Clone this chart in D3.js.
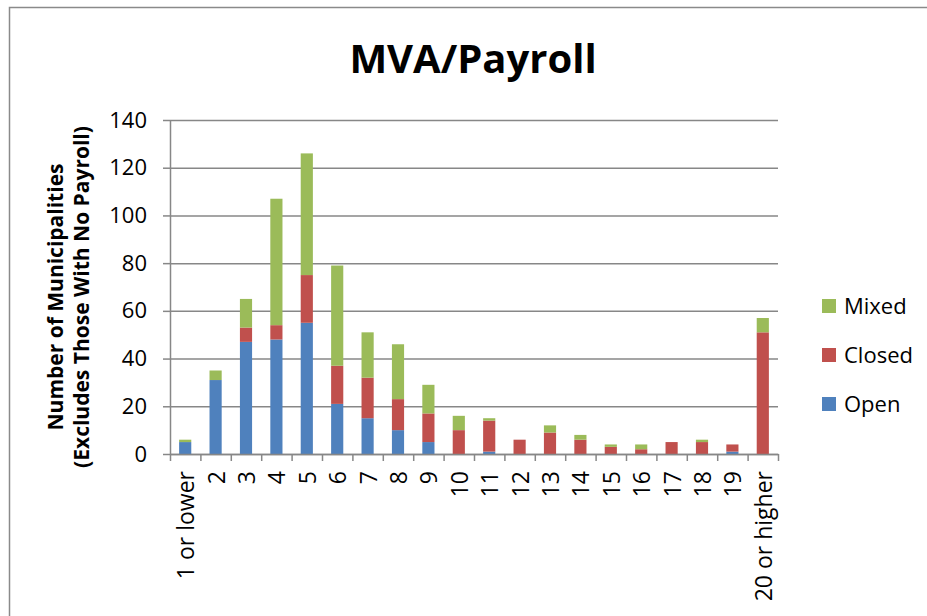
<!DOCTYPE html>
<html>
<head>
<meta charset="utf-8">
<script src="https://cdn.jsdelivr.net/npm/d3@7"></script>
<style>
  body { margin: 0; background: #fff; }
  text { font-family: "Open Sans", "DejaVu Sans", sans-serif; fill: #000; }
  .grid line { stroke: #878787; stroke-width: 1.5; }
  .grid path { display: none; }
  .axis path, .axis line { stroke: #878787; stroke-width: 1.5; }
</style>
</head>
<body>
<div id="chart"></div>
<script>
var categories = ["1 or lower", "2", "3", "4", "5", "6", "7", "8", "9", "10",
  "11", "12", "13", "14", "15", "16", "17", "18", "19", "20 or higher"]
var openVals   = [5, 31, 47, 48, 55, 21, 15, 10, 5, 0, 1, 0, 0, 0, 0, 0, 0, 0, 1, 0]
var closedVals = [0, 0, 6, 6, 20, 16, 17, 13, 12, 10, 13, 6, 9, 6, 3, 2, 5, 5, 3, 51]
var mixedVals  = [1, 4, 12, 53, 51, 42, 19, 23, 12, 6, 1, 0, 3, 2, 1, 2, 0, 1, 0, 6]
var seriesNames = ["Open", "Closed", "Mixed"]
var seriesColors = ["#4f81bd", "#c0504d", "#9bbb59"]
var yTicks = [0, 20, 40, 60, 80, 100, 120, 140]

var width = 927, height = 616
var margin = {top: 120, right: 149, bottom: 162, left: 170}
var plotW = width - margin.left - margin.right,
  plotH = height - margin.top - margin.bottom

var svg = d3.select("#chart").append("svg")
  .attr("width", width)
  .attr("height", height)

// outer chart frame (runs off the right and bottom edge)
svg.append("rect")
  .attr("x", 9.5).attr("y", 7.5)
  .attr("width", 1000).attr("height", 1000)
  .attr("fill", "#fff")
  .attr("stroke", "#8a8a8a")
  .attr("stroke-width", 1.5)

var g = svg.append("g")
  .attr("transform", "translate(" + margin.left + "," + margin.top + ")")

var x = d3.scaleBand()
  .domain(categories)
  .range([0, plotW])
  .paddingInner(0.6)
  .paddingOuter(0.3)

var xEdge = d3.scaleLinear()
  .domain([0, categories.length])
  .range([0, plotW])

var y = d3.scaleLinear()
  .domain([0, 140])
  .range([plotH, 0])

// gridlines
g.append("g")
  .attr("class", "grid")
  .call(d3.axisLeft(y).tickValues(yTicks).tickSize(-plotW).tickFormat(""))

// stacked bars
var rows = categories.map((c, i) => ({cat: c, Open: openVals[i], Closed: closedVals[i], Mixed: mixedVals[i]}))
var stacked = d3.stack().keys(seriesNames)(rows)

g.selectAll("g.series")
  .data(stacked)
  .enter()
  .append("g")
  .attr("class", "series")
  .attr("fill", (d, i) => seriesColors[i])
  .selectAll("rect")
  .data(d => d)
  .enter()
  .append("rect")
  .attr("x", d => x(d.data.cat))
  .attr("width", x.bandwidth())
  .attr("y", d => y(d[1]))
  .attr("height", d => y(d[0]) - y(d[1]))

// y axis
var yAxis = g.append("g")
  .attr("class", "axis")
  .call(d3.axisLeft(y).tickValues(yTicks).tickSize(7).tickSizeOuter(0).tickPadding(16))
yAxis.selectAll("text")
  .style("font-size", "22px")

// x axis: ticks between categories, labels rotated
var xAxis = g.append("g")
  .attr("class", "axis")
  .attr("transform", "translate(0," + plotH + ")")
  .call(d3.axisBottom(xEdge).tickValues(d3.range(categories.length + 1)).tickSize(7).tickSizeOuter(0).tickFormat(""))

g.append("g")
  .selectAll("text")
  .data(categories)
  .enter()
  .append("text")
  .attr("transform", d => "translate(" + (x(d) + x.bandwidth() / 2 + 1) + "," + (plotH + 17) + ") rotate(-90)")
  .attr("text-anchor", "end")
  .attr("dy", "0.35em")
  .style("font-size", "23px")
  .text(d => d)

// title
svg.append("text")
  .attr("x", 473)
  .attr("y", 73)
  .attr("text-anchor", "middle")
  .style("font-size", "40px")
  .style("font-weight", "bold")
  .text("MVA/Payroll")

// y axis title
var yTitle = svg.append("text")
  .attr("transform", "translate(0,297) rotate(-90)")
  .attr("text-anchor", "middle")
  .style("font-size", "21px")
  .style("font-weight", "bold")
yTitle.append("tspan").attr("x", 0).attr("y", 63).text("Number of Municipalities")
yTitle.append("tspan").attr("x", 0).attr("y", 89).text("(Excludes Those With No Payroll)")

// legend (reverse order, Mixed on top)
var legendItems = seriesNames.slice().reverse()
var legend = svg.append("g")
  .selectAll("g")
  .data(legendItems)
  .enter()
  .append("g")
  .attr("transform", (d, i) => "translate(822," + (306 + i * 49) + ")")

legend.append("rect")
  .attr("x", 0).attr("y", -7)
  .attr("width", 14).attr("height", 14)
  .attr("fill", d => seriesColors[seriesNames.indexOf(d)])

legend.append("text")
  .attr("x", 22)
  .attr("dy", "0.35em")
  .style("font-size", "22px")
  .text(d => d)
</script>
</body>
</html>
